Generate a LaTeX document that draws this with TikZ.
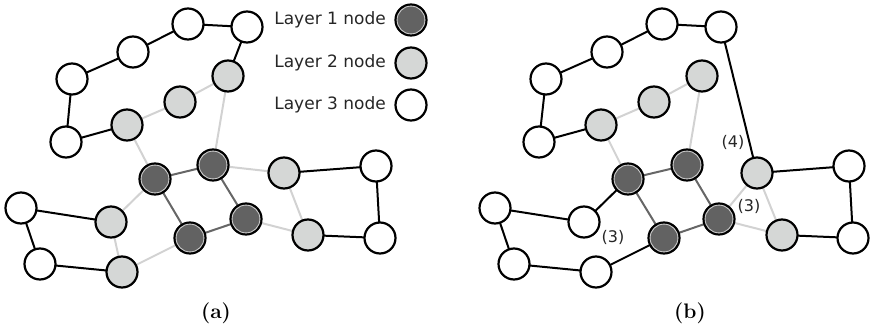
\documentclass[tikz,border=0pt]{standalone}
\usepackage{fontspec}
\newfontfamily\labelfont{DejaVu Sans}
\definecolor{darkfill}{HTML}{626262}
\definecolor{lightfill}{HTML}{D5D7D6}
\definecolor{lightedge}{HTML}{D2D2D2}
\definecolor{darkedge}{HTML}{666666}
\definecolor{ringcol}{HTML}{D0D0D0}
\tikzset{
  vtx/.style={circle, draw=black, line width=2.2pt, minimum size=31pt, inner sep=0pt},
  lone/.style={vtx, fill=darkfill},
  ltwo/.style={vtx, fill=lightfill},
  lthree/.style={vtx, fill=white},
  ring/.style={draw=ringcol, line width=0.8pt},
  blk/.style={draw=black, line width=2pt},
  lgt/.style={draw=lightedge, line width=2pt},
  drk/.style={draw=darkedge, line width=2pt},
  legtext/.style={font=\labelfont\fontsize{17}{20}\selectfont, anchor=east, inner sep=0pt, text=black!85},
  cnt/.style={font=\labelfont\fontsize{16}{18}\selectfont, inner sep=0pt, text=black!85},
  capt/.style={font=\bfseries\fontsize{21}{24}\selectfont, inner sep=0pt}
}
\begin{document}
\begin{tikzpicture}[x=1pt, y=-1pt]
\useasboundingbox (0,0) rectangle (873,332);

% ---------- panel (a) ----------
\begin{scope}
  % edges first, nodes drawn over them
  \coordinate (aW1) at (188,24);  \coordinate (aW2) at (247,27);
  \coordinate (aW3) at (133,52);  \coordinate (aW4) at (72,79);
  \coordinate (aW5) at (66,142);  \coordinate (aG1) at (228,76);
  \coordinate (aG2) at (180,102); \coordinate (aG3) at (127,125);
  \coordinate (aD1) at (155,179); \coordinate (aD2) at (213,165);
  \coordinate (aD3) at (190,238); \coordinate (aD4) at (246,219);
  \coordinate (aG4) at (284,173); \coordinate (aG5) at (308,235);
  \coordinate (aW6) at (376,166); \coordinate (aW7) at (380,238);
  \coordinate (aW8) at (21,208);  \coordinate (aW9) at (40,264);
  \coordinate (aG6) at (111,222); \coordinate (aG7) at (122,272);

  \path[lgt] (aG3) -- (aG2) -- (aG1) -- (aD2);
  \path[lgt] (aG3) -- (aD1) -- (aG6) -- (aG7) -- (aD3);
  \path[lgt] (aD2) -- (aG4) -- (aG5) -- (aD4);
  \path[drk] (aD1) -- (aD2) -- (aD4) -- (aD3) -- (aD1);
  \path[blk] (aW2) -- (aW1) -- (aW3) -- (aW4) -- (aW5) -- (aG3);
  \path[blk] (aW2) -- (aG1);
  \path[blk] (aG4) -- (aW6) -- (aW7) -- (aG5);
  \path[blk] (aG6) -- (aW8) -- (aW9) -- (aG7);

  \foreach \n in {W1,W2,W3,W4,W5,W6,W7,W8,W9} \node[lthree] (na\n) at (a\n) {};
  \foreach \n in {G1,G2,G3,G4,G5,G6,G7} \node[ltwo] (na\n) at (a\n) {};
  \foreach \n in {D1,D2,D3,D4} {
    \node[lone] (na\n) at (a\n) {};
    \path[ring] (na\n.center) circle (13.9pt);
  }

  \node[capt] (capa) at (216,313) {(a)};
\end{scope}

% ---------- legend ----------
\node[lone]   (leg1) at (411,20) {};
\path[ring] (leg1.center) circle (13.9pt);
\node[ltwo]   (leg2) at (411,63) {};
\node[lthree] (leg3) at (411,105) {};
\node[legtext] (legt1) at (386,20) {Layer 1 node};
\node[legtext] (legt2) at (386,63) {Layer 2 node};
\node[legtext] (legt3) at (386,105) {Layer 3 node};

% ---------- panel (b) ----------
\begin{scope}
  \coordinate (bW1) at (662,24);  \coordinate (bW2) at (721,27);
  \coordinate (bW3) at (607,52);  \coordinate (bW4) at (546,79);
  \coordinate (bW5) at (539,142); \coordinate (bG1) at (702,76);
  \coordinate (bG2) at (654,102); \coordinate (bG3) at (601,125);
  \coordinate (bD1) at (628,179); \coordinate (bD2) at (687,165);
  \coordinate (bD3) at (664,238); \coordinate (bD4) at (719,219);
  \coordinate (bG4) at (757,173); \coordinate (bG5) at (782,235);
  \coordinate (bW6) at (849,166); \coordinate (bW7) at (853,238);
  \coordinate (bW8) at (495,208); \coordinate (bW9) at (514,264);
  \coordinate (bW10) at (584,222); \coordinate (bW11) at (596,272);

  \path[lgt] (bG3) -- (bG2) -- (bG1) -- (bD2);
  \path[lgt] (bG3) -- (bD1);
  \path[lgt] (bD4) -- (bG4) -- (bG5) -- (bD4);
  \path[drk] (bD1) -- (bD2) -- (bD4) -- (bD3) -- (bD1);
  \path[blk] (bW2) -- (bW1) -- (bW3) -- (bW4) -- (bW5) -- (bG3);
  \path[blk] (bW2) -- (bG4);
  \path[blk] (bG4) -- (bW6) -- (bW7) -- (bG5);
  \path[blk] (bD1) -- (bW10) -- (bW8) -- (bW9) -- (bW11) -- (bD3);

  \foreach \n in {W1,W2,W3,W4,W5,W6,W7,W8,W9,W10,W11} \node[lthree] (nb\n) at (b\n) {};
  \foreach \n in {G1,G2,G3,G4,G5} \node[ltwo] (nb\n) at (b\n) {};
  \foreach \n in {D1,D2,D3,D4} {
    \node[lone] (nb\n) at (b\n) {};
    \path[ring] (nb\n.center) circle (13.9pt);
  }

  \node[cnt] (cfour)  at (733,142) {(4)};
  \node[cnt] (cthree) at (749,206) {(3)};
  \node[cnt] (cthreeb) at (613,237) {(3)};

  \node[capt] (capb) at (690,313) {(b)};
\end{scope}
\end{tikzpicture}
\end{document}
